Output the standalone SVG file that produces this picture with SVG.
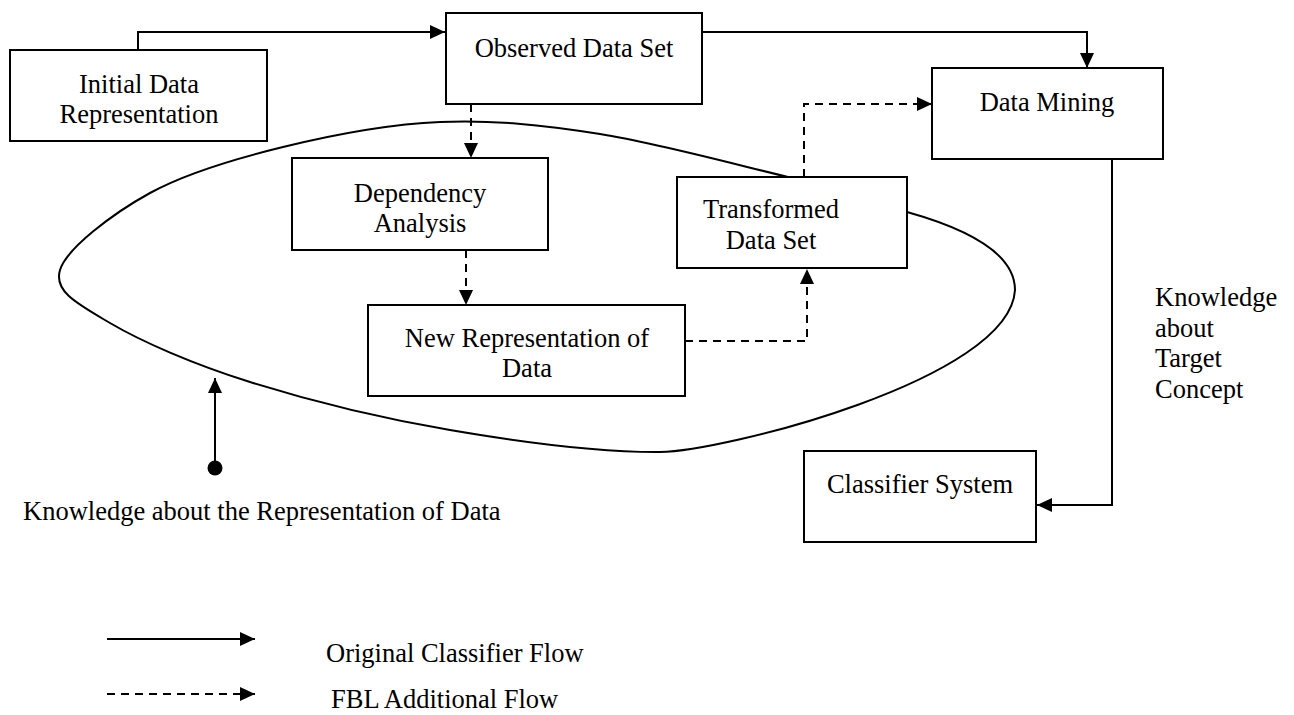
<svg xmlns="http://www.w3.org/2000/svg" width="1294" height="715" viewBox="0 0 1294 715">
<style>
.box{fill:#fff;stroke:#000;stroke-width:2}
.t{font-family:"Liberation Serif","Times New Roman",serif;font-size:26.5px;fill:#000}
.c{text-anchor:middle}
.ln{fill:none;stroke:#000;stroke-width:2}
.dash{fill:none;stroke:#000;stroke-width:2;stroke-dasharray:8,6}
</style>
<defs>
<marker id="ah" markerUnits="userSpaceOnUse" markerWidth="16" markerHeight="16" refX="15" refY="7" orient="auto">
<path d="M0,0 L15,7 L0,14 z" fill="#000"/>
</marker>
</defs>
<rect width="1294" height="715" fill="#fff"/>
<g id="region">
<path class="ln" stroke-width="1.8" d="M788,177 C741.3,166 658,143.2 600,134 C542,124.8 492.8,119.8 440,122 C387.2,124.2 331.3,135.2 283,147 C234.7,158.8 187.2,172.5 150,193 C112.8,213.5 66.7,248.3 60,270 C53.3,291.7 78.3,304.3 110,323 C141.7,341.7 193.3,364.2 250,382 C306.7,399.8 381.7,418.3 450,430 C518.3,441.7 598.8,452.5 660,452 C720,452 1010,380 1015,290 C1015,250 957,226 907,212 C870,201 830,190 788,177 Z"/>
</g>
<g id="connectors">
<path class="ln" d="M138,50 V32 H445" marker-end="url(#ah)"/>
<path class="ln" d="M702,32 H1087 V68" marker-end="url(#ah)"/>
<path class="ln" d="M1112,159 V505 H1037" marker-end="url(#ah)"/>
<path class="dash" d="M471,104 V158" marker-end="url(#ah)"/>
<path class="dash" d="M466,250 V305" marker-end="url(#ah)"/>
<path class="dash" d="M685,341 H807 V269" marker-end="url(#ah)"/>
<path class="dash" d="M804,177 V104 H932" marker-end="url(#ah)"/>
<path class="ln" d="M215,468 V378" marker-end="url(#ah)"/>
<circle cx="215" cy="468" r="7.5" fill="#000"/>
</g>
<g id="initial">
<rect class="box" x="10" y="50" width="257" height="91"/>
<text class="t c" x="139" y="93">Initial Data</text>
<text class="t c" x="139" y="123">Representation</text>
</g>
<g id="observed">
<rect class="box" x="446" y="13" width="256" height="91"/>
<text class="t c" x="574" y="57">Observed Data Set</text>
</g>
<g id="datamining">
<rect class="box" x="932" y="68" width="231" height="91"/>
<text class="t c" x="1047" y="111">Data Mining</text>
</g>
<g id="dependency">
<rect class="box" x="292" y="158" width="256" height="92"/>
<text class="t c" x="420" y="202">Dependency</text>
<text class="t c" x="420" y="232">Analysis</text>
</g>
<g id="transformed">
<rect class="box" x="677" y="177" width="230" height="91"/>
<text class="t c" x="771" y="218">Transformed</text>
<text class="t c" x="771" y="249">Data Set</text>
</g>
<g id="newrep">
<rect class="box" x="368" y="305" width="317" height="91"/>
<text class="t c" x="527" y="347">New Representation of</text>
<text class="t c" x="527" y="377">Data</text>
</g>
<g id="classifier">
<rect class="box" x="804" y="451" width="232" height="91"/>
<text class="t c" x="920" y="493">Classifier System</text>
</g>
<g id="knowledge-target">
<text class="t" x="1155" y="306">Knowledge</text>
<text class="t" x="1155" y="337">about</text>
<text class="t" x="1155" y="367">Target</text>
<text class="t" x="1155" y="398">Concept</text>
</g>
<g id="knowledge-rep">
<text class="t" x="23" y="520">Knowledge about the Representation of Data</text>
</g>
<g id="legend">
<path class="ln" d="M107,639 H255" marker-end="url(#ah)"/>
<path class="dash" d="M107,694 H255" marker-end="url(#ah)"/>
<text class="t" x="326" y="662">Original Classifier Flow</text>
<text class="t" x="331" y="708">FBL Additional Flow</text>
</g>
</svg>
